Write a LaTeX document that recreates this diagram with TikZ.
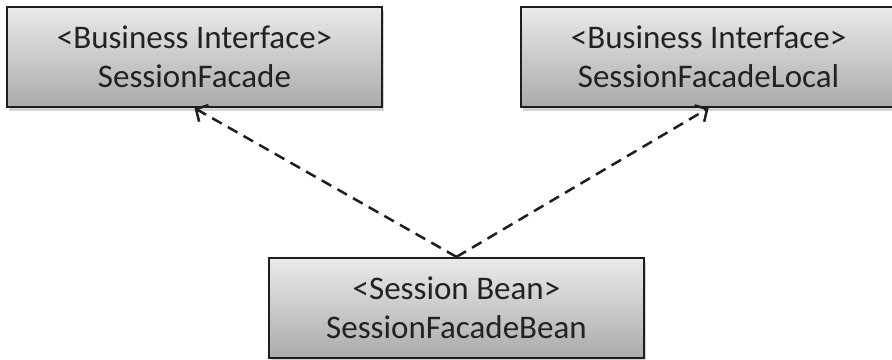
\documentclass[tikz,border=0pt]{standalone}
\usepackage{fontspec}
\setmainfont{Carlito}
\usepackage{tikz}
\usetikzlibrary{arrows.meta,shadows}

\definecolor{boxtop}{HTML}{EAEAEA}
\definecolor{boxbottom}{HTML}{ABABAB}
\definecolor{boxline}{HTML}{1E1E1E}
\definecolor{boxtext}{HTML}{222222}

\begin{document}
\begin{tikzpicture}[x=1pt,y=1pt]

\tikzstyle{block} = [draw=boxline, line width=2.2pt, minimum width=375pt, minimum height=100pt, inner sep=0pt, text=boxtext, top color=boxtop, bottom color=boxbottom, drop shadow={shadow xshift=2pt, shadow yshift=-4pt, opacity=0.35}]
\tikzstyle{realize} = [draw=boxline, line width=2.5pt, dash pattern=on 11pt off 7pt, -{Straight Barb[length=9pt,width=19pt,line width=2.5pt]}]

\useasboundingbox (0,0) rectangle (892,-359);

\draw node (anchor) at (0,0) {};

%Business interfaces: top left and top right

\path (anchor)+(194.5,-57) node (facade) [block] {\begin{minipage}[c]{360pt}
	\centering\fontsize{33}{39}\selectfont
	<Business Interface>\\
	SessionFacade
\end{minipage}};

\path (facade.east)+(325.5,0) node (facade_local) [block] {\begin{minipage}[c]{360pt}
	\centering\fontsize{33}{39}\selectfont
	<Business Interface>\\
	SessionFacadeLocal
\end{minipage}};

%Session bean: bottom middle

\path (anchor)+(456.5,-308) node (facade_bean) [block] {\begin{minipage}[c]{360pt}
	\centering\fontsize{33}{39}\selectfont
	<Session Bean>\\
	SessionFacadeBean
\end{minipage}};

%Arrows

\draw [realize] (facade_bean.north) -- (facade.south);
\draw [realize] (facade_bean.north) -- (facade_local.south);

\end{tikzpicture}
\end{document}
